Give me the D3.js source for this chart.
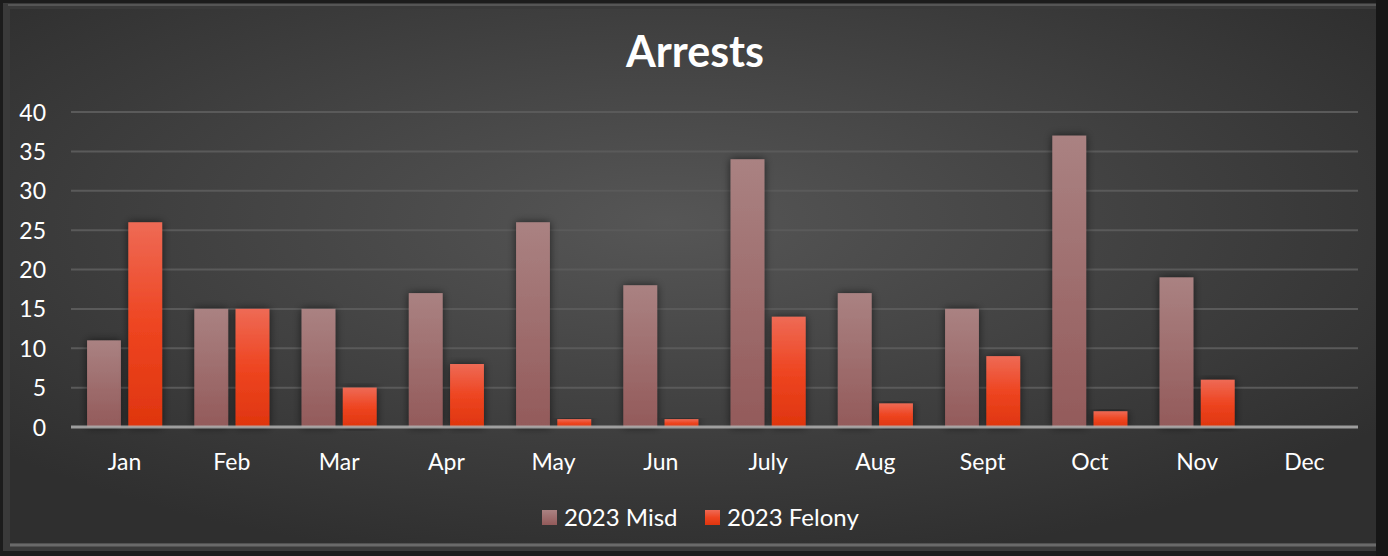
<!DOCTYPE html>
<html lang="en">
<head>
<meta charset="utf-8">
<title>Arrests</title>
<script src="https://d3js.org/d3.v7.min.js"></script>
<style>
  html, body { margin: 0; padding: 0; background: #1e1e1e; }
  text { font-family: Lato, "Open Sans", sans-serif; fill: #fff; }
</style>
</head>
<body>
<script>
// chart data
var months = ["Jan", "Feb", "Mar", "Apr", "May", "Jun", "July", "Aug", "Sept", "Oct", "Nov", "Dec"];
var misd = [11, 15, 15, 17, 26, 18, 34, 17, 15, 37, 19, 0];
var felony = [26, 15, 5, 8, 1, 1, 14, 3, 9, 2, 6, 0];
var seriesNames = ["2023 Misd", "2023 Felony"];
var yTicks = [0, 5, 10, 15, 20, 25, 30, 35, 40];

var w = 1388, h = 556;
var plotLeft = 71, plotRight = 1358, plotTop = 112, plotBottom = 427;
var fontSize = 23;

var svg = d3.select("body").append("svg")
    .attr("width", w)
    .attr("height", h);

var defs = svg.append("defs");

// background gradient, lighter in the middle
var bg = defs.append("radialGradient").attr("id", "bg")
    .attr("cx", "48%").attr("cy", "40%").attr("r", "65%");
bg.append("stop").attr("offset", "0%").attr("stop-color", "#565656");
bg.append("stop").attr("offset", "100%").attr("stop-color", "#2f2f2f");

var gMisd = defs.append("linearGradient").attr("id", "gMisd")
    .attr("x1", 0).attr("y1", 0).attr("x2", 0).attr("y2", 1);
gMisd.append("stop").attr("offset", "0%").attr("stop-color", "#aa8282");
gMisd.append("stop").attr("offset", "100%").attr("stop-color", "#935a5a");

var gFel = defs.append("linearGradient").attr("id", "gFel")
    .attr("x1", 0).attr("y1", 0).attr("x2", 0).attr("y2", 1);
gFel.append("stop").attr("offset", "0%").attr("stop-color", "#ee6a55");
gFel.append("stop").attr("offset", "50%").attr("stop-color", "#ee4521");
gFel.append("stop").attr("offset", "100%").attr("stop-color", "#df350e");

var shadow = defs.append("filter").attr("id", "shadow")
    .attr("x", "-40%").attr("y", "-10%").attr("width", "180%").attr("height", "120%");
shadow.append("feDropShadow").attr("dx", 0).attr("dy", 0)
    .attr("stdDeviation", 4).attr("flood-color", "#000").attr("flood-opacity", 0.6);

// frame
svg.append("rect").attr("x", 0).attr("y", 0).attr("width", w).attr("height", h).attr("fill", "#1c1c1c");
svg.append("rect").attr("x", 3).attr("y", 3).attr("width", w - 9).attr("height", h - 8)
    .attr("fill", "#3a3a3a");
svg.append("rect").attr("x", 10).attr("y", 9).attr("width", w - 22).attr("height", h - 22)
    .attr("fill", "url(#bg)");
svg.append("line").attr("x1", 10).attr("x2", w - 12).attr("y1", 545).attr("y2", 545)
    .attr("stroke", "#6a6a6a").attr("stroke-width", 3);
svg.append("line").attr("x1", 8).attr("x2", w - 12).attr("y1", 5).attr("y2", 5)
    .attr("stroke", "#555").attr("stroke-width", 2);
svg.append("rect").attr("x", w - 12).attr("y", 0).attr("width", 12).attr("height", h)
    .attr("fill", "#161616");

var x0 = d3.scaleBand().domain(months).range([plotLeft, plotRight]).paddingInner(0.3).paddingOuter(0.15);
var x1 = d3.scaleBand().domain(seriesNames).range([0, x0.bandwidth()]).paddingInner(0.18);
var y = d3.scaleLinear().domain([0, 40]).range([plotBottom, plotTop]);

// gridlines
svg.append("g").selectAll("line")
    .data(yTicks.slice(1))
    .enter().append("line")
    .attr("x1", plotLeft).attr("x2", plotRight)
    .attr("y1", function(d) { return y(d); })
    .attr("y2", function(d) { return y(d); })
    .attr("stroke", "#5a5a5a").attr("stroke-width", 2);

// y axis labels
var yAxis = d3.axisLeft(y).tickValues(yTicks).tickSize(0).tickPadding(0);
var ya = svg.append("g").attr("transform", "translate(46,0)").call(yAxis);
ya.select(".domain").remove();
ya.selectAll("text").attr("font-size", fontSize).attr("fill", "#fff").attr("dy", "0.35em")
    .style("font-family", "Lato, sans-serif");

// bars
var groups = svg.append("g").selectAll("g")
    .data(months)
    .enter().append("g")
    .attr("transform", function(d) { return "translate(" + x0(d) + ",0)"; });

groups.append("rect")
    .attr("x", x1(seriesNames[0]))
    .attr("width", x1.bandwidth())
    .attr("y", function(d, i) { return y(misd[i]); })
    .attr("height", function(d, i) { return y(0) - y(misd[i]); })
    .attr("fill", "url(#gMisd)")
    .attr("filter", function(d, i) { return misd[i] > 0 ? "url(#shadow)" : null; });

groups.append("rect")
    .attr("x", x1(seriesNames[1]))
    .attr("width", x1.bandwidth())
    .attr("y", function(d, i) { return y(felony[i]); })
    .attr("height", function(d, i) { return y(0) - y(felony[i]); })
    .attr("fill", "url(#gFel)")
    .attr("filter", function(d, i) { return felony[i] > 0 ? "url(#shadow)" : null; });

// baseline
svg.append("line").attr("x1", plotLeft).attr("x2", plotRight)
    .attr("y1", y(0)).attr("y2", y(0))
    .attr("stroke", "#b0b0b0").attr("stroke-width", 3).attr("opacity", 0.85);

// x axis labels
var xAxis = d3.axisBottom(x0).tickSize(0).tickPadding(0);
var xa = svg.append("g").attr("transform", "translate(0,462)").call(xAxis);
xa.select(".domain").remove();
xa.selectAll("text").attr("font-size", fontSize).attr("fill", "#fff").attr("dy", "0.35em")
    .style("font-family", "Lato, sans-serif");

// title
svg.append("text")
    .attr("x", 695).attr("y", 67)
    .attr("text-anchor", "middle")
    .attr("font-size", 43).attr("font-weight", "bold")
    .text("Arrests");

// legend
var legendX = [542, 705];
var legendFill = ["url(#gMisd)", "url(#gFel)"];
var leg = svg.append("g").selectAll("g")
    .data(seriesNames)
    .enter().append("g")
    .attr("transform", function(d, i) { return "translate(" + legendX[i] + ",510)"; });
leg.append("rect").attr("width", 15).attr("height", 15)
    .attr("fill", function(d, i) { return legendFill[i]; });
leg.append("text").attr("x", 22).attr("y", 8).attr("dy", "0.35em")
    .attr("font-size", 24)
    .text(function(d) { return d; });
</script>
</body>
</html>
